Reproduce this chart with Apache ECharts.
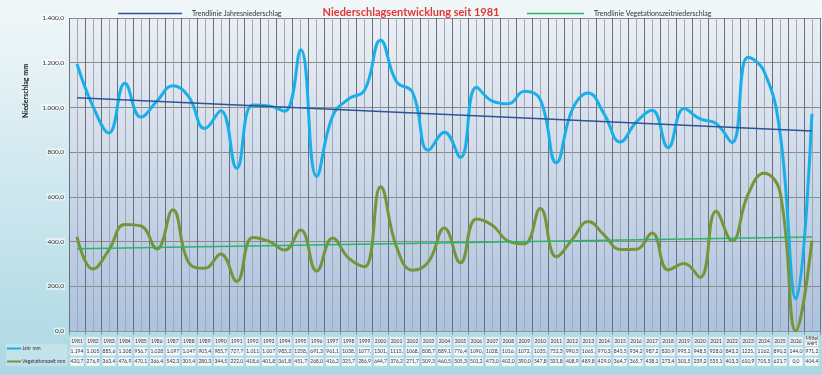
<!DOCTYPE html>
<html><head><meta charset="utf-8">
<script src="https://cdn.jsdelivr.net/npm/echarts@6/dist/echarts.min.js"></script>
<style>html,body{margin:0;padding:0;}#c{width:822px;height:375px;}</style>
</head><body><div id="c"></div>
<script>
const categories = ['1981','1982','1983','1984','1985','1986','1987','1988','1989','1990','1991','1992','1993','1994','1995','1996','1997','1998','1999','2000','2001','2002','2003','2004','2005','2006','2007','2008','2009','2010','2011','2012','2013','2014','2015','2016','2017','2018','2019','2020','2021','2022','2023','2024','2025','2026','Mittelwert'];
const jahrMm = [1194,1005,885.6,1108,956.7,1028,1097,1047,905.4,985.7,727.7,1011,1007,983.2,1258,691.3,961.1,1038,1077,1301,1115,1068,808.7,889.1,776.4,1090,1028,1016,1072,1035,752.3,990.5,1065,970.3,845.5,934.2,987.2,820.9,995.1,948.5,928.0,843.2,1225,1162,890.2,144.0,971.2];
const vegMm = [420.7,276.9,363.4,476.9,470.1,366.4,542.3,305.4,280.3,344.5,222.0,418.6,401.8,361.8,451.7,268.0,416.2,325.7,286.9,644.7,376.2,271.7,309.3,460.5,305.3,501.2,473.0,402.0,390.0,547.8,331.8,408.9,489.8,429.0,364.7,365.7,438.1,273.4,301.5,239.2,535.1,403.3,610.9,705.5,621.7,0.0,404.4];
const jahrLabels = ['1.194','1.005','885,6','1.108','956,7','1.028','1.097','1.047','905,4','985,7','727,7','1.011','1.007','983,2','1258,','691,3','961,1','1038,','1077,','1301,','1115,','1068,','808,7','889,1','776,4','1090,','1028,','1016,','1072,','1035,','752,3','990,5','1065,','970,3','845,5','934,2','987,2','820,9','995,1','948,5','928,0','843,2','1225,','1162,','890,2','144,0','971,2'];
const vegLabels = ['420,7','276,9','363,4','476,9','470,1','366,4','542,3','305,4','280,3','344,5','222,0','418,6','401,8','361,8','451,7','268,0','416,2','325,7','286,9','644,7','376,2','271,7','309,3','460,5','305,3','501,2','473,0','402,0','390,0','547,8','331,8','408,9','489,8','429,0','364,7','365,7','438,1','273,4','301,5','239,2','535,1','403,3','610,9','705,5','621,7','0,0','404,4'];
const trendJahrEnds = [1043, 895];
const trendVegEnds = [368, 420];
const yMin = 0, yMax = 1400, yStep = 200;

const n = categories.length;
const endsToData = e => categories.map((c, i) => i === 0 ? e[0] : (i === n - 1 ? e[1] : null));
function fmtY(v) {
  const s = v.toFixed(1).split('.');
  return s[0].replace(/\B(?=(\d{3})+(?!\d))/g, '.') + ',' + s[1];
}
const FONT = 'Lato';
const cell = (bg) => ({fontSize: 5, fontFamily: FONT, color: '#333', lineHeight: 10.3, height: 8, width: 13, align: 'center', backgroundColor: bg, borderColor: '#c3dbe4', borderWidth: 0.6});

const chart = echarts.init(document.getElementById('c'), null, {renderer: 'canvas'});
chart.setOption({
  animation: false,
  backgroundColor: new echarts.graphic.LinearGradient(0, 0, 0, 1, [
    {offset: 0, color: '#f1f7f9'}, {offset: 1, color: '#abd8e4'}]),
  title: {
    text: 'Niederschlagsentwicklung seit 1981', left: 'center', top: 2,
    textStyle: {color: '#e2372f', fontSize: 11, fontWeight: 'bold', fontFamily: FONT}
  },
  legend: [
    {data: ['Trendlinie Jahresniederschlag'], left: 113, top: 5, icon: 'rect', itemWidth: 64, itemHeight: 1.5, itemGap: 4,
     textStyle: {fontSize: 7, color: '#333', fontFamily: FONT, padding: [0, 0, 0, 5]}},
    {data: ['Trendlinie Vegetationszeitniederschlag'], left: 522, top: 5, icon: 'rect', itemWidth: 57, itemHeight: 1.5,
     textStyle: {fontSize: 7, color: '#333', fontFamily: FONT, padding: [0, 0, 0, 5]}},
    {data: ['Jahr mm', 'Vegetationszeit mm'], orient: 'vertical', left: 6, top: 344, icon: 'rect', itemWidth: 14, itemHeight: 2, itemGap: 8,
     backgroundColor: 'rgba(255,255,255,0.25)', borderColor: '#c3dbe4', borderWidth: 0.6, padding: [2, 2, 2, 1],
     textStyle: {fontSize: 5, color: '#333', fontFamily: FONT, padding: [0, 0, 0, -4]}}
  ],
  graphic: [{
    type: 'text', x: 26, y: 91, rotation: Math.PI / 2,
    style: {text: 'Niederschlag mm', fontSize: 7, fontWeight: 'bold', fontFamily: FONT, fill: '#222', align: 'center', verticalAlign: 'middle'}
  }],
  grid: {
    left: 69, right: 1, top: 18, bottom: 44, show: true, borderWidth: 0,
    backgroundColor: new echarts.graphic.LinearGradient(0, 0, 0, 1, [
      {offset: 0, color: '#eceff4'}, {offset: 1, color: '#adc2dd'}])
  },
  xAxis: [{
    type: 'category', data: categories, boundaryGap: true, position: 'bottom',
    axisLine: {show: true, lineStyle: {color: '#8c939e', width: 1}},
    axisTick: {show: true, length: 4, interval: 0, lineStyle: {color: '#8c939e'}},
    splitLine: {show: false},
    axisLabel: {
      interval: 0, margin: 5,
      formatter: (v, i) => {
        const yr = v === 'Mittelwert' ? '{m|Mittel}\n{m|wert}' : '{y|' + v + '}';
        return yr + '\n{a|' + jahrLabels[i] + '}\n{b|' + vegLabels[i] + '}';
      },
      rich: {
        y: cell('#e9f3f7'),
        m: Object.assign(cell('#ffffff'), {lineHeight: 5.15, height: 4}),
        a: cell('#f7fafb'),
        b: cell('#f7fafb')
      }
    }
  }, {
    type: 'value', min: -0.5, max: n - 0.5, interval: 0.5, position: 'top',
    axisLine: {show: false}, axisTick: {show: false}, axisLabel: {show: false},
    splitLine: {show: true, lineStyle: {color: ['#66707f', '#9ea8b8'], width: 1}}
  }],
  yAxis: {
    type: 'value', min: yMin, max: yMax, interval: yStep,
    axisLine: {show: false}, axisTick: {show: false},
    axisLabel: {formatter: fmtY, fontSize: 6.5, color: '#333', fontFamily: FONT, margin: 4,
      backgroundColor: 'rgba(255,255,255,0.55)', padding: [0, 1]},
    splitLine: {show: true, lineStyle: {color: '#8a8a8a', width: 1}}
  },
  series: [
    {name: 'Jahr mm', type: 'line', data: jahrMm, smooth: 0.45, symbol: 'none',
     lineStyle: {color: '#19b0ea', width: 3}, itemStyle: {color: '#19b0ea'}, z: 3},
    {name: 'Vegetationszeit mm', type: 'line', data: vegMm, smooth: 0.45, symbol: 'none',
     lineStyle: {color: '#76953a', width: 3}, itemStyle: {color: '#76953a'}, z: 3},
    {name: 'Trendlinie Jahresniederschlag', type: 'line', data: endsToData(trendJahrEnds), connectNulls: true, symbol: 'none',
     lineStyle: {color: '#2f5496', width: 1.5}, itemStyle: {color: '#2f5496'}, z: 4},
    {name: 'Trendlinie Vegetationszeitniederschlag', type: 'line', data: endsToData(trendVegEnds), connectNulls: true, symbol: 'none',
     lineStyle: {color: '#2bb56b', width: 1.5}, itemStyle: {color: '#2bb56b'}, z: 4}
  ]
});
</script></body></html>
